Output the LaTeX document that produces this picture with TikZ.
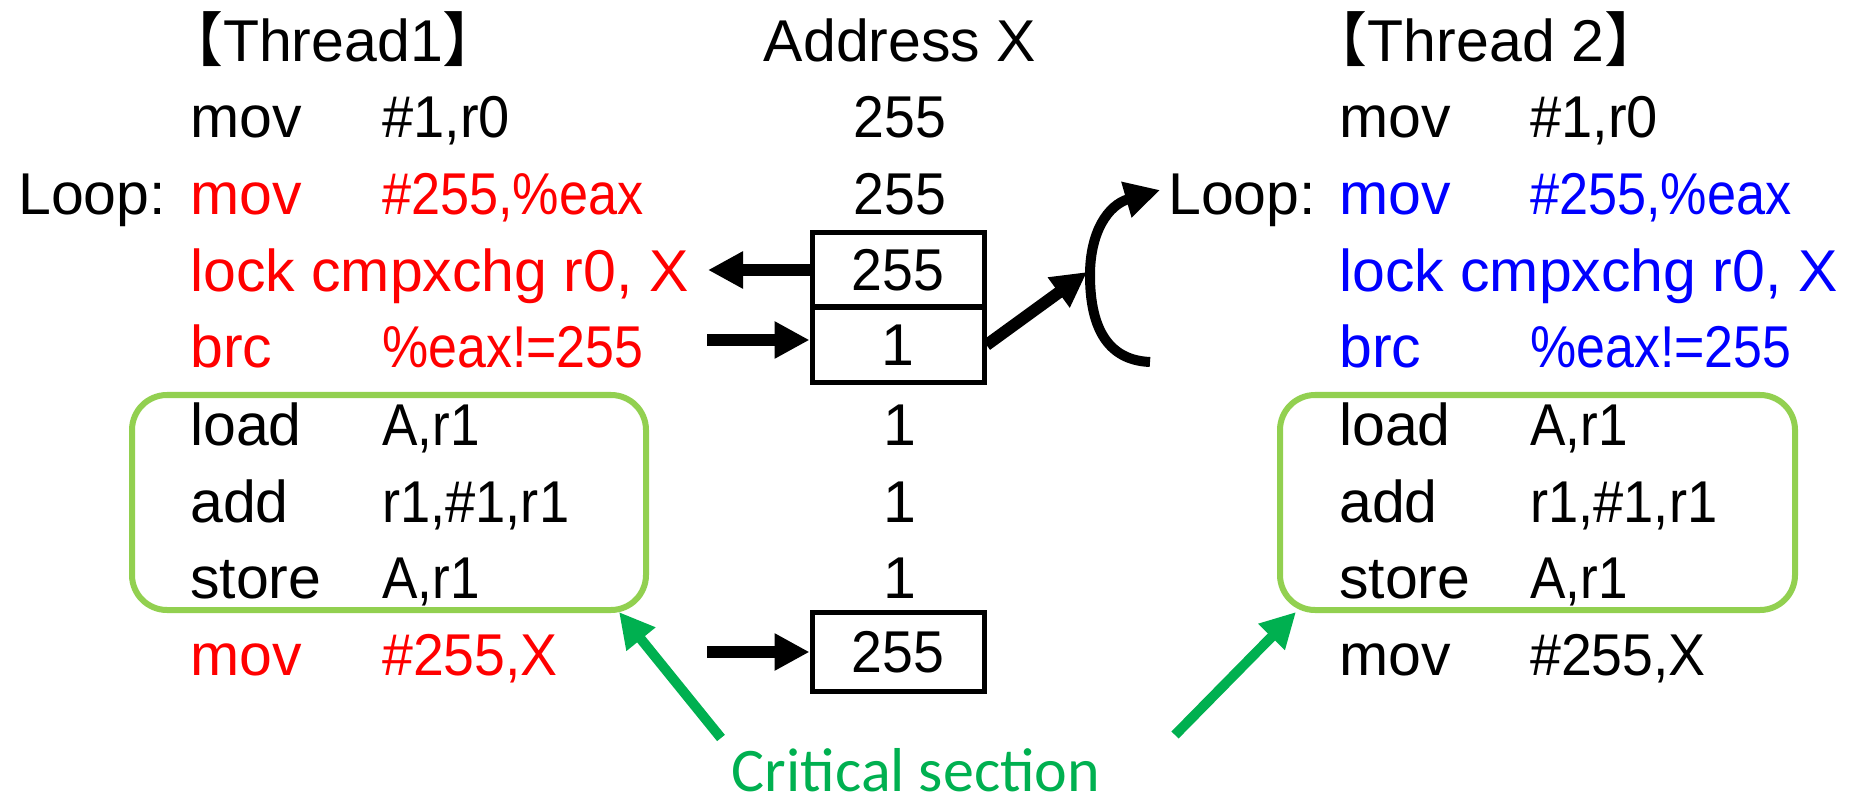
\documentclass[tikz,border=0pt]{standalone}
\usepackage{fontspec}
\usepackage{graphicx}
\setmainfont{Liberation Sans}
\newfontfamily\cjkfont{Noto Sans CJK JP}
\newfontfamily\calfont{Carlito}
\usetikzlibrary{arrows.meta}
\definecolor{redcode}{HTML}{FF0000}
\definecolor{bluecode}{HTML}{0000FF}
\definecolor{csgreen}{HTML}{00B050}
\definecolor{boxgreen}{HTML}{92D050}
% operands and numbers are set a little narrower than the mnemonics
\newcommand\nrw[2]{\scalebox{#1}[1]{#2}}
\tikzset{
  codetext/.style={anchor=base west, inner sep=0pt, font=\fontsize{59}{70}\selectfont},
  valtext/.style={anchor=base, inner sep=0pt, font=\fontsize{59}{70}\selectfont},
  cell/.style={draw=black, line width=5pt, minimum width=172pt, inner sep=0pt,
    font=\fontsize{59}{70}\selectfont},
  barrow/.style={line width=12pt, -{Triangle[length=35pt,width=35pt]}},
  garrow/.style={draw=csgreen, line width=10pt, -{Triangle[length=35pt,width=35pt]}},
  csbox/.style={draw=boxgreen, line width=6pt, rounded corners=35pt},
}
\begin{document}
\begin{tikzpicture}[x=1pt,y=-1pt]
\useasboundingbox (0,0) rectangle (1855,799);

% ---- Thread 1 ----
\node[valtext] (t1title) at (333,62) {{\cjkfont 【}Thread1{\cjkfont 】}};
\node[codetext] (t1a) at (190,138) {mov};
\node[codetext] (t1ab) at (382,138) {\nrw{0.95}{\#1,r0}};
\node[codetext] (t1loop) at (18,215) {Loop:};
\node[codetext, text=redcode] (t1b) at (190,215) {mov};
\node[codetext, text=redcode] (t1bb) at (382,215) {\nrw{0.885}{\#255,\%eax}};
\node[codetext, text=redcode] (t1c) at (190,292) {lock cmpxchg r0, X};
\node[codetext, text=redcode] (t1d) at (190,368) {brc};
\node[codetext, text=redcode] (t1db) at (382,368) {\nrw{0.88}{\%eax!=255}};
\node[codetext] (t1e) at (190,445) {load};
\node[codetext] (t1eb) at (382,445) {\nrw{0.9}{A,r1}};
\node[codetext] (t1f) at (190,522) {add};
\node[codetext] (t1fb) at (382,522) {\nrw{0.92}{r1,\#1,r1}};
\node[codetext] (t1g) at (190,598) {store};
\node[codetext] (t1gb) at (382,598) {\nrw{0.9}{A,r1}};
\node[codetext, text=redcode] (t1h) at (190,675) {mov};
\node[codetext, text=redcode] (t1hb) at (382,675) {\nrw{0.94}{\#255,X}};

% ---- Thread 2 ----
\node[valtext] (t2title) at (1486,62) {{\cjkfont 【}Thread 2{\cjkfont 】}};
\node[codetext] (t2a) at (1339,138) {mov};
\node[codetext] (t2ab) at (1530,138) {\nrw{0.95}{\#1,r0}};
\node[codetext] (t2loop) at (1168,215) {Loop:};
\node[codetext, text=bluecode] (t2b) at (1339,215) {mov};
\node[codetext, text=bluecode] (t2bb) at (1530,215) {\nrw{0.885}{\#255,\%eax}};
\node[codetext, text=bluecode] (t2c) at (1339,292) {lock cmpxchg r0, X};
\node[codetext, text=bluecode] (t2d) at (1339,368) {brc};
\node[codetext, text=bluecode] (t2db) at (1530,368) {\nrw{0.88}{\%eax!=255}};
\node[codetext] (t2e) at (1339,445) {load};
\node[codetext] (t2eb) at (1530,445) {\nrw{0.9}{A,r1}};
\node[codetext] (t2f) at (1339,522) {add};
\node[codetext] (t2fb) at (1530,522) {\nrw{0.92}{r1,\#1,r1}};
\node[codetext] (t2g) at (1339,598) {store};
\node[codetext] (t2gb) at (1530,598) {\nrw{0.9}{A,r1}};
\node[codetext] (t2h) at (1339,675) {mov};
\node[codetext] (t2hb) at (1530,675) {\nrw{0.94}{\#255,X}};

% ---- Address X column ----
\node[valtext] (addr) at (900,62) {Address X};
\node[valtext] (v1) at (900,138) {\nrw{0.94}{255}};
\node[valtext] (v2) at (900,215) {\nrw{0.94}{255}};
\node[cell, minimum height=75pt] (box1) at (898,270) {\nrw{0.94}{255}};
\node[cell, minimum height=76pt] (box2) at (898,345) {1};
\node[valtext] (v5) at (900,445) {1};
\node[valtext] (v6) at (900,522) {1};
\node[valtext] (v7) at (900,598) {1};
\node[cell, minimum height=79pt] (box3) at (898,652) {\nrw{0.94}{255}};

% ---- critical sections ----
\draw[csbox] (132,395) rectangle (646,610);
\draw[csbox] (1280,395) rectangle (1795,610);
\node[anchor=base, inner sep=0pt, text=csgreen, font=\calfont\fontsize{62}{72}\selectfont]
  (cs) at (916,791) {Critical section};

% ---- black arrows ----
\coordinate (readend) at (708,270);
\coordinate (cmpstart) at (707,340);
\coordinate (relstart) at (707,652);
\coordinate (passend) at (1087,272);
\coordinate (arcstart) at (1150,362);
\coordinate (loopin) at (1160,190);
\draw[barrow] (box1.west) -- (readend);
\draw[barrow] (cmpstart) -- (box2.west |- cmpstart);
\draw[barrow] (relstart) -- (box3.west);
\draw[barrow] (box2.east) -- (passend);
\draw[line width=10pt, -{Triangle[length=35pt,width=35pt]}]
  (arcstart) .. controls (1100,360) and (1090,315) .. (1090,275)
  .. controls (1090,232) and (1108,205) .. (loopin);

% ---- green pointers ----
\coordinate (g1tail) at (721,738);
\coordinate (g1tip) at (619,612);
\coordinate (g2tail) at (1175,735);
\coordinate (g2tip) at (1296,612);
\draw[garrow] (g1tail) -- (g1tip);
\draw[garrow] (g2tail) -- (g2tip);
\end{tikzpicture}
\end{document}
